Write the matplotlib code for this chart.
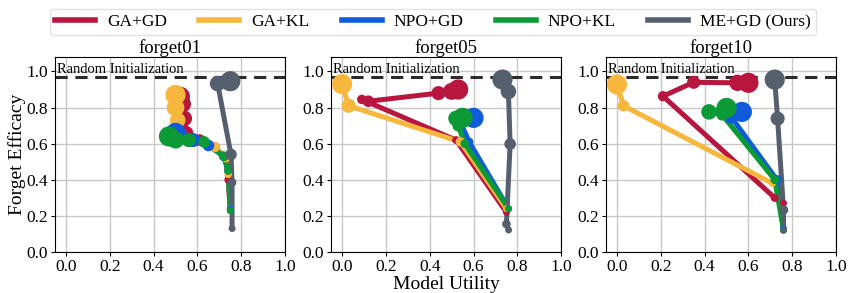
import matplotlib.pyplot as plt
import numpy as np
from matplotlib.lines import Line2D

plt.rcParams['font.family'] = ['Liberation Serif', 'DejaVu Serif']

panels = ['forget01', 'forget05', 'forget10']
methods = ['GA+GD', 'GA+KL', 'NPO+GD', 'NPO+KL', 'ME+GD (Ours)']
colors = ['#B8163F', '#F6B73C', '#0E5BDB', '#0B9A36', '#555F6D']
random_init = 0.972

# (model utility, forget efficacy) along each run
forget01_x = {
    'GA+GD': [0.75, 0.74, 0.73, 0.68, 0.61, 0.55, 0.54, 0.53, 0.52],
    'GA+KL': [0.75, 0.74, 0.73, 0.68, 0.58, 0.52, 0.51, 0.50, 0.50],
    'NPO+GD': [0.75, 0.74, 0.72, 0.65, 0.58, 0.52, 0.50],
    'NPO+KL': [0.75, 0.74, 0.72, 0.63, 0.56, 0.50, 0.47],
    'ME+GD (Ours)': [0.758, 0.758, 0.753, 0.692, 0.75],
}
forget01_y = {
    'GA+GD': [0.23, 0.40, 0.52, 0.58, 0.62, 0.66, 0.74, 0.82, 0.86],
    'GA+KL': [0.24, 0.43, 0.52, 0.58, 0.62, 0.65, 0.73, 0.80, 0.87],
    'NPO+GD': [0.24, 0.45, 0.53, 0.59, 0.62, 0.64, 0.66],
    'NPO+KL': [0.23, 0.45, 0.53, 0.61, 0.62, 0.62, 0.64],
    'ME+GD (Ours)': [0.13, 0.385, 0.54, 0.933, 0.946],
}
forget05_x = {
    'GA+GD': [0.75, 0.52, 0.09, 0.12, 0.44, 0.50, 0.53],
    'GA+KL': [0.75, 0.54, 0.03, 0.0],
    'NPO+GD': [0.76, 0.58, 0.54, 0.58, 0.60],
    'NPO+KL': [0.76, 0.56, 0.53, 0.52, 0.55],
    'ME+GD (Ours)': [0.76, 0.75, 0.767, 0.759, 0.732],
}
forget05_y = {
    'GA+GD': [0.22, 0.62, 0.845, 0.835, 0.88, 0.89, 0.90],
    'GA+KL': [0.24, 0.61, 0.81, 0.93],
    'NPO+GD': [0.24, 0.61, 0.72, 0.74, 0.743],
    'NPO+KL': [0.24, 0.60, 0.70, 0.74, 0.743],
    'ME+GD (Ours)': [0.122, 0.155, 0.598, 0.889, 0.955],
}
forget10_x = {
    'GA+GD': [0.76, 0.72, 0.21, 0.35, 0.55, 0.60],
    'GA+KL': [0.71, 0.03, 0.0],
    'NPO+GD': [0.76, 0.73, 0.52, 0.57],
    'NPO+KL': [0.76, 0.72, 0.48, 0.42, 0.50],
    'ME+GD (Ours)': [0.76, 0.76, 0.733, 0.72],
}
forget10_y = {
    'GA+GD': [0.27, 0.30, 0.863, 0.94, 0.937, 0.937],
    'GA+KL': [0.38, 0.81, 0.928],
    'NPO+GD': [0.13, 0.40, 0.75, 0.776],
    'NPO+KL': [0.12, 0.40, 0.76, 0.776, 0.798],
    'ME+GD (Ours)': [0.122, 0.233, 0.739, 0.955],
}
xs = [forget01_x, forget05_x, forget10_x]
ys = [forget01_y, forget05_y, forget10_y]

fig = plt.figure(figsize=(8.49, 2.93), dpi=100)
lefts = [0.0648, 0.390, 0.7138]
axes = [fig.add_axes([l, 0.1399, 0.271, 0.6655]) for l in lefts]

for ax, name, px, py in zip(axes, panels, xs, ys):
    ax.grid(True, color='#c8c8c8', linewidth=1.0, zorder=0)
    ax.axhline(random_init, color='#2b2b2b', linestyle='--', linewidth=2.2, dashes=(4, 2.5), zorder=1)
    ax.text(-0.04, random_init + 0.003, 'Random Initialization', fontsize=10.5, va='bottom', ha='left')
    for m, c in zip(methods, colors):
        x = np.array(px[m])
        y = np.array(py[m])
        n = len(x)
        d = 5.0 + 9.5 * (np.arange(n) / (n - 1)) ** 1.5
        ax.plot(x, y, color=c, linewidth=3.6, zorder=3, solid_capstyle='round')
        ax.scatter(x, y, s=d ** 2, color=c, zorder=4, linewidths=0)
    ax.set_xlim(-0.05, 1.0)
    ax.set_ylim(0, 1.08)
    ax.set_xticks(np.arange(0, 1.01, 0.2))
    ax.set_yticks(np.arange(0, 1.01, 0.2))
    ax.tick_params(labelsize=12.5, length=3, pad=2)
    ax.set_title(name, fontsize=13.5, pad=3)
    ax.set_axisbelow(True)

axes[0].set_ylabel('Forget Efficacy', fontsize=14, labelpad=0)
axes[1].set_xlabel('Model Utility', fontsize=14, labelpad=1)

handles = [Line2D([0], [0], color=c, linewidth=4) for c in colors]
fig.legend(handles, methods, loc='upper center', ncol=5, bbox_to_anchor=(0.51, 1.0),
           fontsize=12.5, frameon=True, handlelength=2.3, handletextpad=0.7,
           columnspacing=1.85, borderpad=0.3, edgecolor='#dddddd', fancybox=True)

fig.savefig('out.png', dpi=100)
